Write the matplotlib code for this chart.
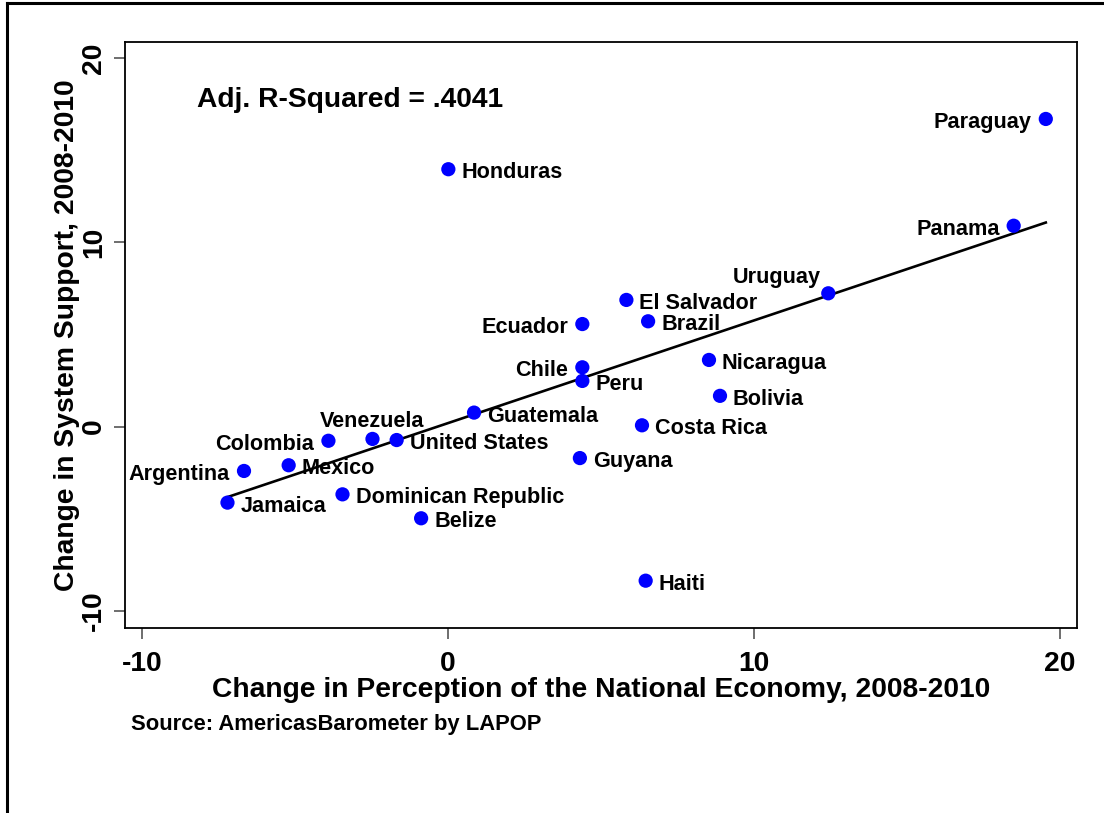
import matplotlib
matplotlib.use("Agg")
import matplotlib.pyplot as plt
from matplotlib.lines import Line2D
import numpy as np

plt.rcParams['font.family'] = ['Liberation Sans', 'DejaVu Sans']
plt.rcParams['font.weight'] = 'bold'

countries = ["Paraguay", "Panama", "Honduras", "Uruguay", "El Salvador", "Brazil",
             "Ecuador", "Nicaragua", "Chile", "Peru", "Bolivia", "Guatemala",
             "Costa Rica", "Venezuela", "Colombia", "United States", "Guyana",
             "Argentina", "Mexico", "Jamaica", "Dominican Republic", "Belize", "Haiti"]
econ_change = [19.54, 18.49, 0.01, 12.43, 5.83, 6.54, 4.39, 8.53, 4.39, 4.39, 8.89, 0.85,
               6.34, -2.47, -3.91, -1.68, 4.31, -6.67, -5.21, -7.21, -3.45, -0.88, 6.46]
support_change = [16.71, 10.91, 13.98, 7.24, 6.88, 5.72, 5.57, 3.62, 3.22, 2.48, 1.67, 0.76,
                  0.07, -0.67, -0.77, -0.73, -1.71, -2.41, -2.10, -4.13, -3.68, -4.98, -8.37]
# label clock positions (Stata mlabvposition)
label_pos = [9, 9, 3, 11, 3, 3, 9, 3, 9, 3, 3, 3, 3, 12, 9, 3, 3, 9, 3, 3, 3, 3, 3]

fit_intercept = 0.19
fit_slope = 0.5575

x_ticks = [-10, 0, 10, 20]
y_ticks = [-10, 0, 10, 20]

W, H = 1104, 813
fig = plt.figure(figsize=(W / 100, H / 100), dpi=100)
ax = fig.add_axes([125 / W, 1 - 628 / H, (1077 - 125) / W, (628 - 42) / H])

ax.set_xlim(-10.56, 20.56)
ax.set_ylim(-10.94, 20.89)

x = np.array(econ_change)
y = np.array(support_change)
xs = np.array([x.min(), x.max()])
ax.plot(xs, fit_intercept + fit_slope * xs, color='black', lw=1.9, zorder=2)
ax.scatter(x, y, s=105, color='#0000ff', edgecolors='none', zorder=3)

px = 1.0 / 1.3889  # points per pixel at 100 dpi
for name, xi, yi, pos in zip(countries, x, y, label_pos):
    if pos == 3:
        ax.annotate(name, (xi, yi), xytext=(13 * px, -9 * px), textcoords='offset points',
                    ha='left', va='baseline', fontsize=15.6, fontweight='bold', zorder=4)
    elif pos == 9:
        ax.annotate(name, (xi, yi), xytext=(-14 * px, -9 * px), textcoords='offset points',
                    ha='right', va='baseline', fontsize=15.6, fontweight='bold', zorder=4)
    elif pos == 12:
        ax.annotate(name, (xi, yi), xytext=(0, 12 * px), textcoords='offset points',
                    ha='center', va='baseline', fontsize=15.6, fontweight='bold', zorder=4)
    elif pos == 11:
        ax.annotate(name, (xi, yi), xytext=(-8 * px, 10 * px), textcoords='offset points',
                    ha='right', va='baseline', fontsize=15.6, fontweight='bold', zorder=4)

ax.text(-8.2, 17.38, "Adj. R-Squared = .4041", fontsize=20.3, fontweight='bold',
        ha='left', va='baseline')

ax.set_xticks(x_ticks)
ax.set_yticks(y_ticks)
ax.set_xticklabels([str(t) for t in x_ticks], fontsize=20.3, fontweight='bold')
ax.set_yticklabels([str(t) for t in y_ticks], fontsize=20.3, fontweight='bold',
                   rotation=90, va='center')
ax.tick_params(axis='both', direction='out', length=8, width=1.2, color='#555555')
ax.tick_params(axis='x', pad=8.6)
ax.tick_params(axis='y', pad=5)

for sp in ax.spines.values():
    sp.set_linewidth(1.3)
    sp.set_color('black')

ax.set_xlabel("Change in Perception of the National Economy, 2008-2010",
              fontsize=20.3, fontweight='bold', labelpad=0.3)
ax.set_ylabel("Change in System Support, 2008-2010",
              fontsize=20.3, fontweight='bold', labelpad=1)

fig.text(131 / W, 1 - 730 / H, "Source: AmericasBarometer by LAPOP",
         fontsize=15.8, fontweight='bold', ha='left', va='baseline')

# outer border (top and left visible)
fig.add_artist(Line2D([7 / W, 7 / W], [0, 1 - 3 / H], color='black', lw=2.2,
                      transform=fig.transFigure))
fig.add_artist(Line2D([7 / W, 1], [1 - 3 / H, 1 - 3 / H], color='black', lw=2.2,
                      transform=fig.transFigure))

fig.savefig("out.png", dpi=100)
